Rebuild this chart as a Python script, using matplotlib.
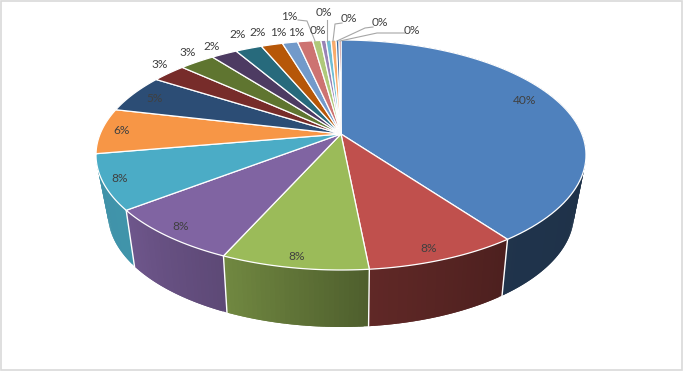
#!/usr/bin/python3
# 3D looking pie chart, drawn by hand since matplotlib has no perspective pie
import numpy as np
import matplotlib
matplotlib.use("Agg")
import matplotlib.pyplot as plt
from matplotlib.patches import Rectangle

# slice sizes in percent, clockwise from 12 o'clock
values = [40, 8.5, 8.2, 7.9, 7.7, 6.4, 5.4, 2.7, 2.8, 2.05, 2.1, 1.7, 1.2, 1.2, 0.64, 0.4, 0.4, 0.4, 0.23, 0.15]
colors = ["#4f81bd", "#c0504d", "#9bbb59", "#8064a2", "#4bacc6", "#f79646", "#2c4d75", "#772c2a", "#5f7530", "#4d3b62",
          "#276a7c", "#b65708", "#729aca", "#cd7371", "#afc97a", "#9983b5", "#6fbdd3", "#f9ab6b", "#3a679c", "#9f3b38"]

# side wall brightness by angle
shade_angles = [0, 100, 144, 174, 204, 232, 262, 360]
shade_levels = [0.38, 0.38, 0.40, 0.50, 0.73, 0.86, 0.85, 0.85]

# label anchors in pixels, same order as values
label_x = [525, 429, 297, 181, 120, 122, 155, 160, 188, 212, 238, 258, 278, 296, 289, 318, 324, 349, 380, 412]
label_y = [101, 248, 256, 227, 178, 131, 98, 64, 53, 46, 35, 33, 33, 32, 16, 30, 12, 19, 23, 30]

# leader lines: slice index -> polyline in pixels
leaders = {
    14: [(298, 20), (307, 21), (315, 41)],
    16: [(327, 20), (327, 41)],
    17: [(342, 23), (335, 24), (333, 41)],
    18: [(373, 27), (365, 28), (337, 41)],
    19: [(405, 33), (377, 33), (340, 41)],
}


def project(theta, cx, cy, a, b, k):
    # circle point -> ellipse, moved so the hub sits above the ellipse centre
    u = np.sin(theta)
    v = np.cos(theta)
    d = 1 + k * v
    return cx + a * u * np.sqrt(1 - k * k) / d, cy - b * (v + k) / d


def top_pt(theta):
    return project(theta, 341, 155, 245, 115, 0.183)


def bottom_pt(theta):
    return project(theta, 341, 214, 233, 113, 0.205)


fig = plt.figure(figsize=(6.83, 3.71), dpi=100)
ax = fig.add_axes([0, 0, 1, 1])
ax.set_xlim(0, 683)
ax.set_ylim(371, 0)
ax.axis("off")
ax.add_patch(Rectangle((0.7, 0.7), 681.3, 369.3, fill=False, edgecolor="#d9d9d9", linewidth=1.2))

fracs = np.array(values) / sum(values)
edges = np.concatenate([[0], np.cumsum(fracs)]) * 2 * np.pi

# side wall, only the five front slices can be seen
# thin overlapping strips so the shading runs along it without seams
for i in range(5):
    n = max(2, int(np.degrees(edges[i + 1] - edges[i])) + 1)
    t = np.linspace(edges[i], edges[i + 1], n + 1)
    base = np.array(matplotlib.colors.to_rgb(colors[i]))
    for j in range(n):
        end = t[min(j + 2, n)]
        x0, y0 = top_pt(t[j])
        x1, y1 = top_pt(end)
        x2, y2 = bottom_pt(end)
        x3, y3 = bottom_pt(t[j])
        f = np.interp(np.degrees((t[j] + t[j + 1]) / 2), shade_angles, shade_levels)
        ax.fill([x0, x1, x2, x3], [y0, y1, y2, y3], facecolor=tuple(base * f), edgecolor="none", linewidth=0, zorder=2)

# white seams between the front wall pieces
for e in edges:
    if np.pi * 0.5 < e < np.pi * 1.4:
        xa, ya = top_pt(e)
        xb, yb = bottom_pt(e)
        ax.plot([xa, xb], [ya, yb], color="white", linewidth=1.0, zorder=3)

# top face
hub = top_pt(np.pi)[0], 134
for i in range(len(values)):
    t = np.linspace(edges[i], edges[i + 1], 80)
    x, y = top_pt(t)
    ax.fill(np.r_[hub[0], x], np.r_[hub[1], y], facecolor=colors[i], edgecolor="white", linewidth=0.9, zorder=4)

for pts in leaders.values():
    ax.plot([p[0] for p in pts], [p[1] for p in pts], color="#a6a6a6", linewidth=0.8, zorder=5)

for i in range(len(values)):
    ax.text(label_x[i], label_y[i], "%.0f%%" % values[i], family="Lato", fontsize=8.6, color="#404040",
            ha="center", va="center", zorder=6)

plt.savefig("out.png", dpi=100)
